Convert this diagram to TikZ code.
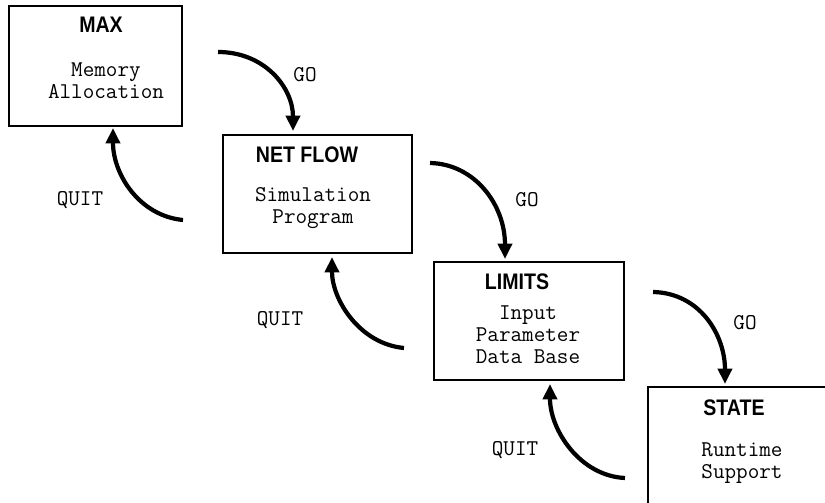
\documentclass[tikz,border=0pt]{standalone}
\usepackage{fontspec}
\newfontfamily\titlefont[FakeStretch=0.87]{Liberation Sans}
\usetikzlibrary{arrows.meta, calc}
\tikzset{
    box/.style = {rectangle, draw=black, line width=1pt, inner sep=0pt, outer sep=0pt},
    title/.style = {font={\fontsize{16}{18}\selectfont\titlefont\bfseries}, inner sep=0pt},
    body/.style = {font={\fontsize{16}{15.6}\selectfont\ttfamily}, align=center, inner sep=0pt},
    lbl/.style = {font={\fontsize{16}{15.6}\selectfont\ttfamily}, inner sep=0pt},
    arrow/.style = {line width=3pt, -{Triangle[length=11pt, width=10pt]}}
}
\begin{document}
\begin{tikzpicture}[x=0.025cm, y=-0.025cm]
\clip (0,0) rectangle (825,503);

% Boxes
\node[box, minimum width=4.325cm, minimum height=3cm] (max) at (95.5,66) {};
\node[box, minimum width=4.725cm, minimum height=2.95cm] (netflow) at (317.5,194) {};
\node[box, minimum width=4.75cm, minimum height=2.95cm] (limits) at (529,321) {};
\node[box, minimum width=4.75cm, minimum height=3.25cm] (state) at (743,452) {};

% Box texts
\node[title] (max_title) at (101,25) {MAX};
\node[body] (max_text) at (106,81) {Memory\\Allocation};
\node[title] (netflow_title) at (307,155) {NET FLOW};
\node[body] (netflow_text) at (313,208) {Simulation\\Program};
\node[title] (limits_title) at (517,282) {LIMITS};
\node[body] (limits_text) at (528,335) {Input\\Parameter\\Data Base};
\node[title] (state_title) at (734,408) {STATE};
\node[body] (state_text) at (742,463) {Runtime\\Support};

% Free ends of the arrows
\coordinate (go1_start) at ($(max.east)+(36,-14)$);
\coordinate (quit1_start) at ($(netflow.west)+(-40,26)$);
\coordinate (go2_start) at ($(netflow.east)+(18,-31)$);
\coordinate (quit2_start) at ($(limits.west)+(-30,27)$);
\coordinate (go3_start) at ($(limits.east)+(29,-29)$);
\coordinate (quit3_start) at ($(state.west)+(-23,26)$);

% Arrows
\draw[arrow] (go1_start) .. controls (265,52) and (293,88) .. ($(netflow.north west)+(70,-4)$);
\draw[arrow] (quit1_start) .. controls (140,216) and (113,175) .. ($(max.south west)+(104,2)$);
\draw[arrow] (go2_start) .. controls (475,164) and (505,205) .. ($(limits.north west)+(71,-3)$);
\draw[arrow] (quit2_start) .. controls (360,344) and (332,300) .. ($(netflow.south west)+(109,4)$);
\draw[arrow] (go3_start) .. controls (700,293) and (725,335) .. ($(state.north west)+(77,-3)$);
\draw[arrow] (quit3_start) .. controls (580,476) and (550,430) .. ($(limits.south west)+(116,4)$);

% Labels
\node[lbl] (go1_lbl) at (305,75) {GO};
\node[lbl] (go2_lbl) at (527,200) {GO};
\node[lbl] (go3_lbl) at (745,323) {GO};
\node[lbl] (quit1_lbl) at (80,200) {QUIT};
\node[lbl] (quit2_lbl) at (280,320) {QUIT};
\node[lbl] (quit3_lbl) at (515,450) {QUIT};

\end{tikzpicture}
\end{document}
